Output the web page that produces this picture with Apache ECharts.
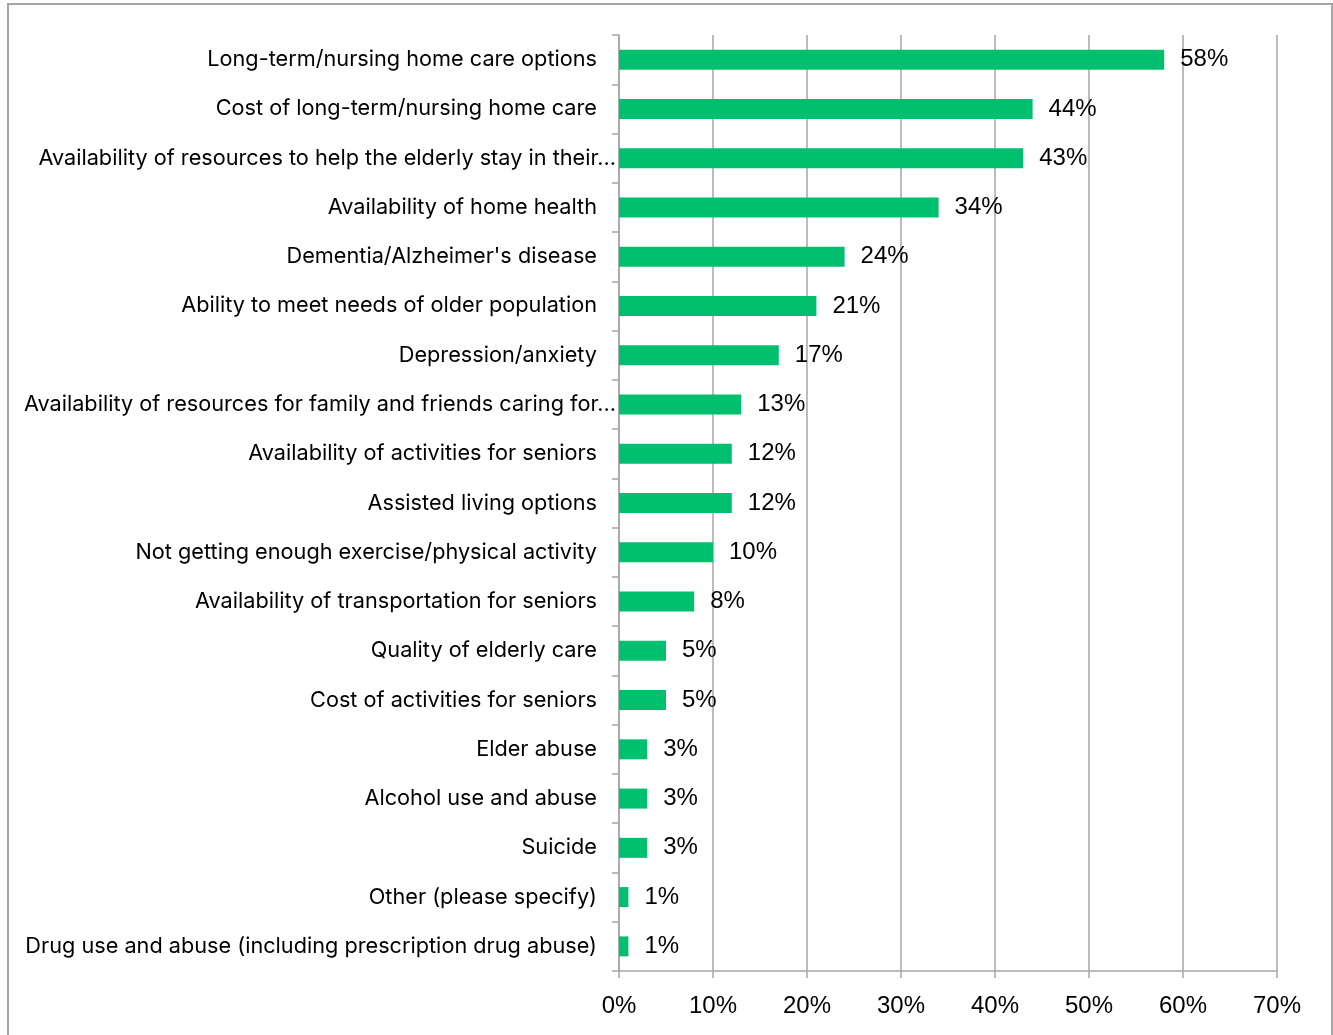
<!DOCTYPE html>
<html>
<head>
<meta charset="utf-8">
<style>
  html, body { margin: 0; padding: 0; background: #fff; }
  #chart { width: 1333px; height: 1035px; }
</style>
<script src="https://cdn.jsdelivr.net/npm/echarts@6/dist/echarts.min.js"></script>
</head>
<body>
<div id="chart"></div>
<script>
// Senior health concerns, share of respondents (%)
const categories = [
  "Long-term/nursing home care options",
  "Cost of long-term/nursing home care",
  "Availability of resources to help the elderly stay in their\u2026",
  "Availability of home health",
  "Dementia/Alzheimer's disease",
  "Ability to meet needs of older population",
  "Depression/anxiety",
  "Availability of resources for family and friends caring for\u2026",
  "Availability of activities for seniors",
  "Assisted living options",
  "Not getting enough exercise/physical activity",
  "Availability of transportation for seniors",
  "Quality of elderly care",
  "Cost of activities for seniors",
  "Elder abuse",
  "Alcohol use and abuse",
  "Suicide",
  "Other (please specify)",
  "Drug use and abuse (including prescription drug abuse)"
];
const percentages = [58, 44, 43, 34, 24, 21, 17, 13, 12, 12, 10, 8, 5, 5, 3, 3, 3, 1, 1];
const truncatedLabels = [2, 7];

const CAT_FONT = "Inter, 'Noto Sans', sans-serif";
const NUM_FONT = "'Liberation Sans', Arial, sans-serif";
const GRID_COLOR = "#a6a6a6";

const chart = echarts.init(document.getElementById("chart"), null, { renderer: "canvas" });

const yData = categories.map((c, i) => truncatedLabels.includes(i)
  ? { value: c, textStyle: { padding: [0, 0, 0, 0] } }
  : { value: c, textStyle: { padding: [0, 19, 0, 0] } });

chart.setOption({
  backgroundColor: "#fff",
  animation: false,
  graphic: [{
    type: "rect",
    shape: { x: 8, y: 4, width: 1324, height: 1040 },
    style: { fill: "none", stroke: GRID_COLOR, lineWidth: 2 },
    silent: true
  }],
  grid: { left: 619, right: 56, top: 35, bottom: 64, containLabel: false },
  xAxis: {
    type: "value",
    min: 0, max: 70, interval: 10,
    axisLine: { show: true, lineStyle: { color: GRID_COLOR, width: 1.5 } },
    axisTick: { show: true, length: 7, lineStyle: { color: GRID_COLOR, width: 1.5 } },
    splitLine: { show: true, lineStyle: { color: GRID_COLOR, width: 1.5 } },
    axisLabel: {
      formatter: v => v + "%",
      color: "#000", fontFamily: NUM_FONT, fontSize: 24, margin: 23
    }
  },
  yAxis: {
    type: "category",
    inverse: true,
    data: yData,
    axisLine: { show: true, lineStyle: { color: GRID_COLOR, width: 1.5 } },
    axisTick: { show: true, length: 7, lineStyle: { color: GRID_COLOR, width: 1.5 } },
    axisLabel: {
      color: "#000", fontFamily: CAT_FONT, fontSize: 21.7, margin: 3, interval: 0
    }
  },
  series: [{
    type: "bar",
    data: percentages,
    barWidth: 20,
    itemStyle: { color: "#00c070" },
    label: {
      show: true,
      position: "right",
      distance: 16,
      formatter: p => p.value + "%",
      color: "#000", fontFamily: NUM_FONT, fontSize: 24
    }
  }]
});
</script>
</body>
</html>
